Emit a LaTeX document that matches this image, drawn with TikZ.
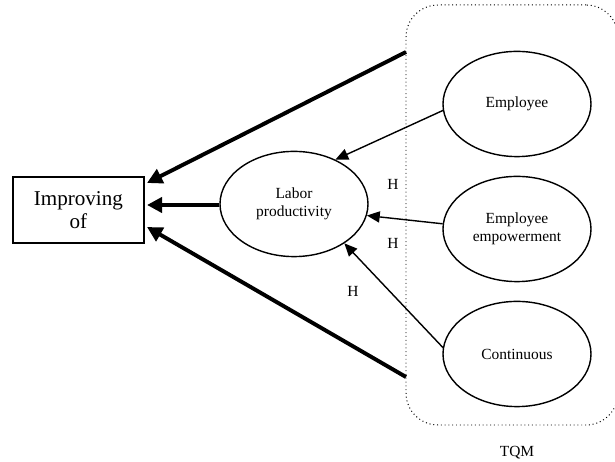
\documentclass[tikz,border=0pt]{standalone}
\usepackage{fontspec}
\setmainfont{Liberation Serif}
\usetikzlibrary{arrows.meta,shapes.geometric,positioning}

\begin{document}
\begin{tikzpicture}[
  every node/.style={font=\fontsize{11}{13}\selectfont},
  ell/.style={draw,ellipse,line width=1pt,minimum width=3.7cm,
              minimum height=2.63cm,inner sep=0pt,align=center},
  outbox/.style={draw,line width=0.9pt,minimum width=3.275cm,
                 minimum height=1.65cm,align=center,
                 font=\fontsize{15}{16}\selectfont},
  group/.style={draw,dotted,line width=0.7pt,rounded corners=0.8cm,
                minimum width=5.3cm,minimum height=10.5cm},
  hyp/.style={line width=1pt,-{Triangle[length=3.2mm,width=2.8mm]}},
  mainarr/.style={line width=2.8pt,-{Triangle[length=3.8mm,width=3.8mm]}},
  hlab/.style={inner sep=1pt}
]
\useasboundingbox (0,0) rectangle (15.375,11.55);

\node[group] (tqm) at (12.8,6.175) {};
\node (tqmlab) at (12.925,0.225) {TQM};

\node[outbox] (imp) at (1.96,6.3) {Improving\\of};
\node[ell] (lab) at (7.35,6.45) {Labor\\productivity};

\node[ell] (emp) at (12.925,8.95) {Employee};
\node[ell] (empw) at (12.925,5.825) {Employee\\empowerment};
\node[ell] (cont) at (12.925,2.7) {Continuous};

\coordinate (t1) at (10.15,10.25);
\coordinate (t3) at (10.15,2.125);
\coordinate (i1) at (3.675,6.975);
\coordinate (i2) at (3.675,6.425);
\coordinate (i3) at (3.675,5.875);

\draw[mainarr] (t1) -- (i1);
\draw[mainarr] (lab.west |- i2) -- (i2);
\draw[mainarr] (t3) -- (i3);

\draw[hyp] (emp.185) -- (lab.47);
\draw[hyp] (empw.176) -- (lab.-9);
\draw[hyp] (cont.175) -- (lab.-38);

\node[hlab] (h1) at (9.825,6.95) {H};
\node[hlab] (h2) at (9.825,5.475) {H};
\node[hlab] (h3) at (8.825,4.275) {H};

\end{tikzpicture}
\end{document}
